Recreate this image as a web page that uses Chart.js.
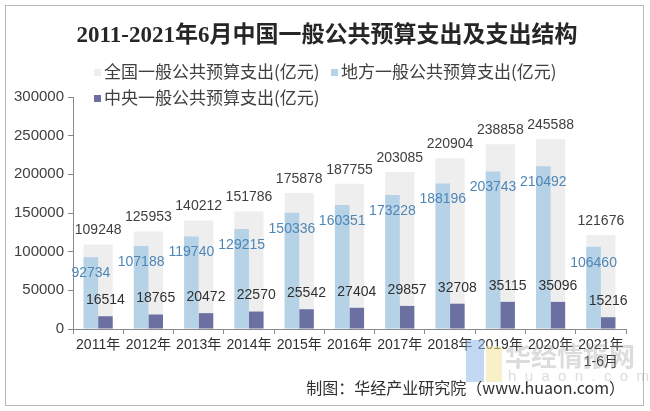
<!DOCTYPE html>
<html>
<head>
<meta charset="utf-8">
<script src="https://cdn.jsdelivr.net/npm/chart.js@4.4.0/dist/chart.umd.min.js"></script>
<style>
html, body { margin: 0; padding: 0; background: #fff; }
canvas { display: block; }
</style>
</head>
<body>
<canvas id="chart" width="650" height="411"></canvas>
<script>
const years = ['2011年', '2012年', '2013年', '2014年', '2015年', '2016年', '2017年', '2018年', '2019年', '2020年', ['2021年', '1-6月']];
const national = [109248, 125953, 140212, 151786, 175878, 187755, 203085, 220904, 238858, 245588, 121676];
const local = [92734, 107188, 119740, 129215, 150336, 160351, 173228, 188196, 203743, 210492, 106460];
const central = [16514, 18765, 20472, 22570, 25542, 27404, 29857, 32708, 35115, 35096, 15216];
const seriesNames = ['全国一般公共预算支出(亿元)', '地方一般公共预算支出(亿元)', '中央一般公共预算支出(亿元)'];

const title = '2011-2021年6月中国一般公共预算支出及支出结构';
const source = '制图：华经产业研究院（www.huaon.com）';

const colors = ['#eeeeee', '#b5d2e7', '#6b70a0'];
const labelColors = ['#404040', '#4f86b5', '#303030'];
const numFont = '14px "Liberation Sans", Arial, sans-serif';
const cjk = '"Noto Sans CJK SC", "Liberation Sans", sans-serif';

// value labels: national above, local inside top, central above
const valueLabels = {
  id: 'valueLabels',
  afterDatasetsDraw(chart) {
    const ctx = chart.ctx;
    ctx.save();
    ctx.font = numFont;
    ctx.textAlign = 'center';
    ctx.textBaseline = 'middle';
    chart.data.datasets.forEach((ds, di) => {
      const meta = chart.getDatasetMeta(di);
      meta.data.forEach((bar, i) => {
        let y;
        if (di === 0) y = bar.y - 14;
        else if (di === 1) y = bar.y + 16;
        else y = bar.y - 16;
        ctx.fillStyle = labelColors[di];
        ctx.fillText(String(ds.data[i]), bar.x, y);
      });
    });
    ctx.restore();
  }
};

const decorations = {
  id: 'decorations',
  beforeDraw(chart) {
    const ctx = chart.ctx;
    ctx.save();
    ctx.fillStyle = '#fff';
    ctx.fillRect(0, 0, chart.width, chart.height);
    ctx.strokeStyle = '#b8b8b8';
    ctx.lineWidth = 1;
    ctx.strokeRect(5.5, 5.5, 638, 400);
    ctx.restore();
  },
  afterDraw(chart) {
    const ctx = chart.ctx;
    ctx.save();
    // title
    ctx.fillStyle = '#262626';
    ctx.font = 'bold 23px "Liberation Serif", "Noto Sans CJK SC", serif';
    ctx.textAlign = 'center';
    ctx.textBaseline = 'middle';
    ctx.fillText(title, 327, 36);

    // legend
    ctx.font = '17px ' + cjk;
    ctx.textAlign = 'left';
    const items = [[94, 72], [331, 72], [94, 98]];
    items.forEach(([x, y], k) => {
      ctx.fillStyle = colors[k];
      ctx.fillRect(x, y - 3, 7, 7);
      ctx.fillStyle = '#404040';
      ctx.fillText(seriesNames[k], x + 10, y);
    });

    // watermark
    ctx.globalAlpha = 0.55;
    ctx.fillStyle = '#8fb8ea';
    ctx.fillRect(466, 340, 18, 42);
    ctx.fillStyle = '#f3e39a';
    ctx.fillRect(486, 346, 16, 36);
    ctx.globalAlpha = 0.35;
    ctx.fillStyle = '#9a9a9a';
    ctx.font = 'bold 26px ' + cjk;
    ctx.fillText('华经情报网', 505, 356);
    ctx.font = '15px "Liberation Sans", sans-serif';
    ctx.fillText('h  u  a  o  n  .  c  o  m', 508, 377);
    ctx.globalAlpha = 1;

    // source
    ctx.fillStyle = '#303030';
    ctx.font = '16px ' + cjk;
    ctx.textAlign = 'right';
    ctx.fillText(source, 625, 388);
    ctx.restore();
  }
};

new Chart(document.getElementById('chart'), {
  type: 'bar',
  data: {
    labels: years,
    datasets: [
      { label: seriesNames[0], data: national, backgroundColor: colors[0], grouped: false, order: 3,
        barPercentage: 1, categoryPercentage: 0.58 },
      { label: seriesNames[1], data: local, backgroundColor: colors[1], order: 1,
        barPercentage: 1, categoryPercentage: 0.58 },
      { label: seriesNames[2], data: central, backgroundColor: colors[2], order: 2,
        barPercentage: 1, categoryPercentage: 0.58 }
    ]
  },
  options: {
    responsive: false,
    animation: false,
    devicePixelRatio: 1,
    layout: { padding: { left: 0, top: 97, right: 24, bottom: 0 } },
    plugins: {
      legend: { display: false },
      title: { display: false },
      tooltip: { enabled: false }
    },
    scales: {
      x: {
        offset: true,
        grid: { drawOnChartArea: false, drawTicks: true, tickLength: 5, color: '#8a8a8a', offset: true },
        border: { display: true, color: '#8a8a8a' },
        ticks: { color: '#303030', font: { size: 14, family: '"Liberation Sans", "Noto Sans CJK SC", sans-serif' },
          padding: 3, maxRotation: 0, autoSkip: false },
        afterFit(s) { s.height = 82; }
      },
      y: {
        min: 0,
        max: 300000,
        grid: { drawOnChartArea: false, drawTicks: true, tickLength: 5, color: '#8a8a8a' },
        border: { display: true, color: '#8a8a8a' },
        ticks: { stepSize: 50000, color: '#404040', padding: 4,
          font: { size: 15, family: '"Liberation Sans", Arial, sans-serif' },
          callback: (v) => String(v) },
        afterFit(s) { s.width = 73; }
      }
    }
  },
  plugins: [decorations, valueLabels]
});
</script>
</body>
</html>
